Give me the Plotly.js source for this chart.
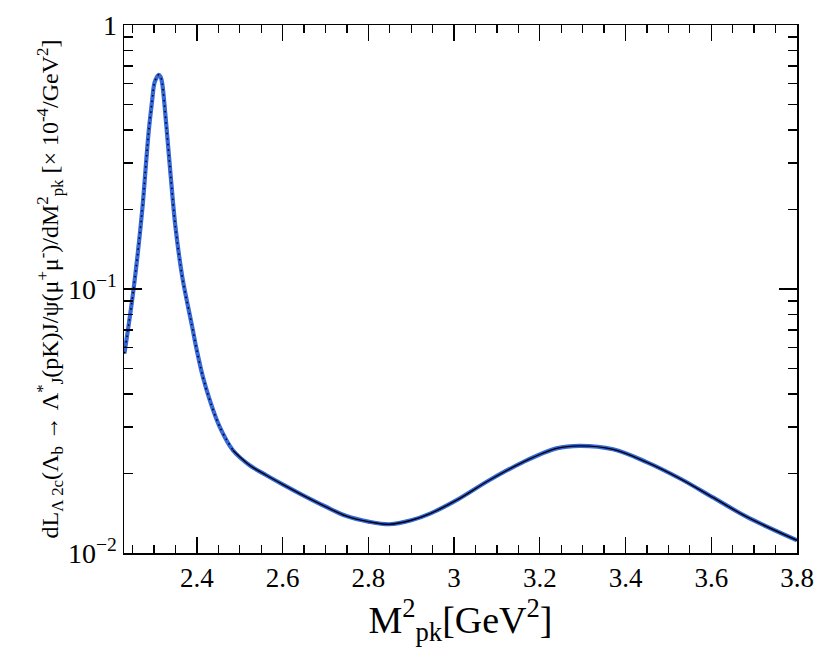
<!DOCTYPE html>
<html>
<head>
<meta charset="utf-8">
<script src="https://cdn.plot.ly/plotly-3.0.1.min.js"></script>
<style>
  body { margin: 0; background: #fff; }
  #plot { width: 830px; height: 659px; }
</style>
</head>
<body>
<div id="plot"></div>
<script>
// M^2_pk values [GeV^2]
const mpk2 = [2.231, 2.252, 2.2725, 2.282, 2.288, 2.295, 2.301, 2.307, 2.311, 2.3155, 2.319, 2.329, 2.339, 2.350,
              2.366, 2.375, 2.389, 2.399, 2.414, 2.430, 2.453, 2.484, 2.523, 2.562, 2.600, 2.640, 2.700,
              2.749, 2.800, 2.850, 2.900, 2.944, 3.006, 3.083, 3.161, 3.239, 3.293, 3.371, 3.449, 3.527,
              3.605, 3.683, 3.800];
// differential rate [x 10^-4 / GeV^2]
const rate = [0.057, 0.099, 0.199, 0.308, 0.401, 0.506, 0.603, 0.636, 0.648, 0.636, 0.603, 0.412, 0.267, 0.172,
              0.111, 0.093, 0.072, 0.0595, 0.0465, 0.0380, 0.0301, 0.0245, 0.0215, 0.0197, 0.0182, 0.0168, 0.0150,
              0.0138, 0.01315, 0.01285, 0.0133, 0.0141, 0.01585, 0.0189, 0.0221, 0.0249, 0.02546, 0.0247, 0.0221, 0.01915,
              0.0162, 0.0137, 0.01117];

const yMajor = [0.01, 0.1, 1];
const yMajorText = ['10<sup>\u22122</sup>', '10<sup>\u22121</sup>', '1'];
const yMinor = [0.02, 0.03, 0.04, 0.05, 0.06, 0.07, 0.08, 0.09, 0.2, 0.3, 0.4, 0.5, 0.6, 0.7, 0.8, 0.9];

// the black overlay is dotted on the steep part, solid where it flattens
const splitAt = mpk2.indexOf(2.484);

const data = [
    {x: mpk2, y: rate, mode: 'lines', line: {color: 'rgb(52,104,220)', width: 4.2, shape: 'spline'}, showlegend: false},
    {x: mpk2.slice(0, splitAt + 1), y: rate.slice(0, splitAt + 1), mode: 'lines',
     line: {color: 'black', width: 1.6, dash: '1.5px,4px', shape: 'spline'}, showlegend: false},
    {x: mpk2.slice(splitAt), y: rate.slice(splitAt), mode: 'lines',
     line: {color: 'black', width: 1.4, shape: 'spline'}, showlegend: false}
];

const font = 'Times New Roman, Liberation Serif, serif';

const layout = {
    width: 830, height: 659,
    margin: {l: 124, r: 33, t: 25, b: 106},
    paper_bgcolor: 'white', plot_bgcolor: 'white',
    font: {family: font, color: 'black'},
    xaxis: {
        range: [2.23, 3.8],
        tick0: 2.4, dtick: 0.2,
        ticks: 'inside', ticklen: 16, tickwidth: 1.3, tickcolor: 'black',
        minor: {dtick: 0.05, ticks: 'inside', ticklen: 8, tickwidth: 1.3, tickcolor: 'black'},
        showline: true, linecolor: 'black', linewidth: 1.5, mirror: 'allticks',
        showgrid: false, zeroline: false,
        tickfont: {size: 27, family: font, color: 'black'},
        title: {text: 'M<sup>2</sup><sub>pk</sub>[GeV<sup>2</sup>]', font: {size: 38, family: font, color: 'black'}, standoff: 6}
    },
    yaxis: {
        type: 'log',
        range: [-2, 0],
        tickmode: 'array', tickvals: yMajor, ticktext: yMajorText,
        ticks: 'inside', ticklen: 18, tickwidth: 1.3, tickcolor: 'black',
        minor: {tickmode: 'array', tickvals: yMinor, ticks: 'inside', ticklen: 9, tickwidth: 1.3, tickcolor: 'black'},
        showline: true, linecolor: 'black', linewidth: 1.5, mirror: 'allticks',
        showgrid: false, zeroline: false,
        tickfont: {size: 28, family: font, color: 'black'},
        title: {
            text: 'dL<sub>\u039b 2c</sub>(\u039b<sub>b</sub> \u2192 \u039b<sup>*</sup><sub>J</sub>(pK)J/\u03c8(\u03bc<sup>+</sup>\u03bc<sup>-</sup>)/dM<sup>2</sup><sub>pk</sub> [\u00d7 10<sup>-4</sup>/GeV<sup>2</sup>]',
            font: {size: 24, family: font, color: 'black'}, standoff: 2
        }
    }
};

Plotly.newPlot('plot', data, layout, {staticPlot: true});
</script>
</body>
</html>
